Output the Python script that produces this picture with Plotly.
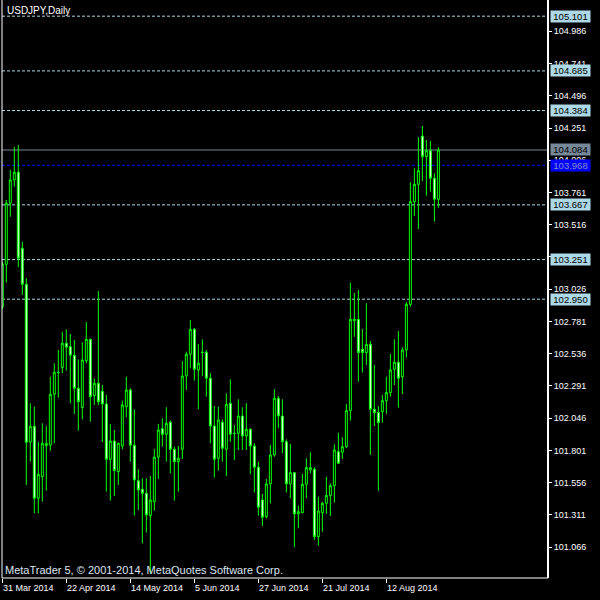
import plotly.graph_objects as go

# ---- data (USDJPY daily) ----
opens = [102.891, 103.215, 103.679, 103.856, 103.915, 103.337, 103.063, 101.863, 101.984, 101.437,
         101.601, 101.837, 101.842, 102.227, 102.395, 102.430, 102.615, 102.589, 102.524, 102.273,
         102.126, 102.483, 102.645, 102.217, 102.311, 102.250, 102.154, 101.733, 101.872, 101.639,
         101.834, 102.133, 102.260, 101.840, 101.571, 101.505, 101.475, 101.305, 101.411, 101.749,
         101.966, 101.923, 102.015, 101.809, 101.715, 101.809, 102.366, 102.531, 102.721, 102.412,
         102.547, 102.547, 102.349, 101.986, 101.741, 102.015, 101.809, 102.159, 101.931, 101.931,
         102.062, 101.910, 101.961, 101.834, 101.673, 101.424, 101.297, 101.546, 101.766, 102.197,
         102.062, 101.867, 101.546, 101.632, 101.318, 101.328, 101.543, 101.652, 101.657, 101.145,
         101.328, 101.399, 101.457, 101.533, 101.791, 101.787, 101.829, 102.103, 102.787, 102.797,
         102.569, 102.544, 102.607, 102.113, 102.088, 102.095, 102.179, 102.240, 102.417, 102.471,
         102.361, 102.564, 102.911, 103.691, 103.823, 104.190, 104.033, 104.079, 103.869, 103.709]
highs = [103.233, 103.704, 103.932, 104.109, 104.122, 103.387, 103.109, 102.159, 102.133, 101.867,
         102.007, 101.986, 102.361, 102.463, 102.564, 102.703, 102.721, 102.686, 102.640, 102.493,
         102.623, 102.777, 102.650, 102.349, 103.012, 102.298, 102.222, 102.002, 101.956, 101.860,
         102.179, 102.361, 102.273, 102.113, 101.657, 101.589, 101.589, 101.606, 101.812, 102.002,
         102.045, 102.129, 102.027, 101.829, 101.834, 102.480, 102.551, 102.792, 102.731, 102.610,
         102.645, 102.564, 102.387, 102.138, 102.133, 102.037, 102.235, 102.341, 101.994, 102.189,
         102.129, 102.159, 101.969, 101.855, 101.715, 101.470, 101.584, 101.842, 102.265, 102.214,
         102.189, 101.885, 101.850, 101.636, 101.381, 101.622, 101.741, 101.787, 101.673, 101.449,
         101.411, 101.599, 101.551, 101.847, 101.936, 101.901, 102.154, 103.076, 102.999, 103.020,
         102.724, 102.919, 102.632, 102.450, 102.138, 102.222, 102.361, 102.534, 102.645, 102.708,
         102.585, 102.927, 103.839, 103.945, 104.181, 104.266, 104.160, 104.152, 103.907, 104.105]
lows = [102.876, 103.076, 103.577, 103.805, 103.193, 102.982, 101.538, 101.715, 101.323, 101.323,
        101.411, 101.495, 101.799, 101.855, 102.201, 102.387, 102.407, 102.159, 102.078, 101.951,
        102.037, 102.463, 102.019, 102.146, 102.146, 101.865, 101.487, 101.419, 101.454, 101.538,
        101.809, 102.053, 101.715, 101.305, 101.348, 101.095, 101.176, 100.862, 101.343, 101.584,
        101.829, 101.715, 101.627, 101.419, 101.487, 101.736, 102.260, 102.425, 102.331, 102.113,
        102.366, 102.209, 101.855, 101.594, 101.647, 101.715, 101.606, 101.867, 101.728, 101.804,
        101.804, 101.804, 101.619, 101.480, 101.305, 101.226, 101.285, 101.399, 101.753, 101.969,
        101.779, 101.480, 101.437, 101.065, 101.209, 101.323, 101.437, 101.627, 101.120, 101.077,
        101.183, 101.318, 101.302, 101.404, 101.698, 101.736, 101.817, 102.027, 102.665, 102.323,
        102.392, 102.450, 101.766, 101.986, 101.495, 102.012, 102.078, 102.209, 102.298, 102.126,
        102.230, 102.506, 102.893, 103.582, 103.484, 103.848, 103.737, 103.767, 103.539, 103.646]
closes = [103.218, 103.679, 103.856, 103.915, 103.261, 103.063, 101.863, 101.984, 101.437, 101.619,
          101.855, 101.855, 102.227, 102.395, 102.392, 102.615, 102.585, 102.524, 102.273, 102.171,
          102.488, 102.645, 102.209, 102.311, 102.171, 102.154, 101.733, 101.872, 101.647, 101.855,
          102.146, 102.260, 101.840, 101.576, 101.500, 101.475, 101.310, 101.424, 101.749, 101.956,
          101.923, 102.007, 101.809, 101.715, 101.741, 102.366, 102.531, 102.721, 102.417, 102.463,
          102.545, 102.349, 101.986, 101.733, 102.032, 101.817, 102.151, 101.923, 101.929, 102.062,
          101.910, 101.961, 101.834, 101.673, 101.369, 101.293, 101.546, 101.766, 102.197, 102.062,
          101.867, 101.546, 101.632, 101.318, 101.335, 101.543, 101.670, 101.670, 101.145, 101.340,
          101.399, 101.458, 101.533, 101.804, 101.703, 101.829, 102.103, 102.797, 102.797, 102.544,
          102.544, 102.607, 102.113, 102.088, 102.012, 102.179, 102.240, 102.412, 102.471, 102.349,
          102.564, 102.911, 103.691, 103.823, 103.927, 104.033, 104.079, 103.869, 103.709, 104.084]
bar_index = list(range(len(opens)))

date_ticks = [0, 16, 32, 48, 64, 80, 96]
date_labels = ["31 Mar 2014", "22 Apr 2014", "14 May 2014", "5 Jun 2014",
               "27 Jun 2014", "21 Jul 2014", "12 Aug 2014"]

price_ticks = [101.066, 101.311, 101.556, 101.801, 102.046, 102.291, 102.536, 102.781,
               103.026, 103.271, 103.516, 103.761, 104.006, 104.251, 104.496, 104.741, 104.986]

level_values = [105.101, 104.685, 104.384, 103.667, 103.251, 102.950]
bid_level = 104.084
ask_level = 103.968

y_min, y_max = 100.831, 105.224

GREEN = "#00FF00"
LEVEL_COL = "#ADD8E6"
FONT = "Liberation Sans"

fig = go.Figure()

# horizontal level lines (drawn under candles)
shapes = []
for v in level_values:
    shapes.append(dict(type="line", xref="paper", yref="y", x0=0, x1=1, y0=v, y1=v,
                       line=dict(color=LEVEL_COL, width=1, dash="3px,2px"), layer="below"))
shapes.append(dict(type="line", xref="paper", yref="y", x0=0, x1=1, y0=bid_level, y1=bid_level,
                   line=dict(color="#778899", width=1), layer="below"))
shapes.append(dict(type="line", xref="paper", yref="y", x0=0, x1=1, y0=ask_level, y1=ask_level,
                   line=dict(color="#0000FF", width=1, dash="3px,2px"), layer="below"))
# frame
shapes.append(dict(type="line", xref="paper", yref="paper", x0=0, x1=0, y0=0, y1=1,
                   line=dict(color="white", width=1)))
shapes.append(dict(type="line", xref="paper", yref="paper", x0=0, x1=1, y0=0, y1=0,
                   line=dict(color="white", width=1)))
shapes.append(dict(type="line", xref="paper", yref="paper", x0=1, x1=1, y0=0, y1=1,
                   line=dict(color="white", width=2)))

fig.add_trace(go.Candlestick(
    x=bar_index, open=opens, high=highs, low=lows, close=closes,
    increasing=dict(line=dict(color=GREEN, width=1), fillcolor="black"),
    decreasing=dict(line=dict(color=GREEN, width=1), fillcolor="white"),
    whiskerwidth=0, showlegend=False, hoverinfo="skip",
))

annotations = []
# price level labels on the right
for v in level_values:
    annotations.append(dict(xref="paper", yref="y", x=1, y=v, xanchor="left", yanchor="middle",
                            xshift=2, text=f"{v:.3f}", showarrow=False, bgcolor=LEVEL_COL,
                            font=dict(family=FONT, size=9.5, color="black"),
                            width=39, height=11, borderpad=0))
annotations.append(dict(xref="paper", yref="y", x=1, y=bid_level, xanchor="left", yanchor="middle",
                        xshift=2, text=f"{bid_level:.3f}", showarrow=False, bgcolor="#778899",
                        font=dict(family=FONT, size=9.5, color="black"),
                        width=39, height=11, borderpad=0))
annotations.append(dict(xref="paper", yref="y", x=1, y=ask_level, xanchor="left", yanchor="middle",
                        xshift=2, text=f"{ask_level:.3f}", showarrow=False, bgcolor="#0000FF",
                        font=dict(family=FONT, size=9.5, color="#8090C0"),
                        width=39, height=11, borderpad=0))
# date labels (left aligned at their ticks)
for t, lab in zip(date_ticks, date_labels):
    annotations.append(dict(xref="x", yref="paper", x=t, y=0, xanchor="left", yanchor="top",
                            xshift=-1, yshift=-3, text=lab, showarrow=False,
                            font=dict(family=FONT, size=9, color="white")))
# title and copyright
annotations.append(dict(xref="paper", yref="paper", x=0, y=1, xanchor="left", yanchor="top",
                        xshift=3, yshift=-3, text="USDJPY,Daily", showarrow=False,
                        font=dict(family=FONT, size=10, color="white")))
annotations.append(dict(xref="paper", yref="paper", x=0, y=0, xanchor="left", yanchor="bottom",
                        xshift=1, yshift=0, text="MetaTrader 5, © 2001-2014, MetaQuotes Software Corp.",
                        showarrow=False, font=dict(family=FONT, size=11, color="#DCE6F2")))

fig.update_layout(
    width=600, height=600,
    margin=dict(l=2, r=52, t=0, b=22),
    paper_bgcolor="black", plot_bgcolor="black",
    shapes=shapes, annotations=annotations,
    showlegend=False,
    xaxis=dict(range=[-0.075, 136.4], showgrid=False, zeroline=False,
               tickmode="array", tickvals=date_ticks, ticks="outside", ticklen=4,
               tickcolor="white", showticklabels=False, rangeslider=dict(visible=False),
               fixedrange=True),
    yaxis=dict(range=[y_min, y_max], side="right", showgrid=False, zeroline=False,
               tickmode="array", tickvals=price_ticks, ticktext=[f"{p:.3f}" for p in price_ticks],
               ticks="outside", ticklen=3, tickcolor="white",
               tickfont=dict(family=FONT, size=9, color="white"), fixedrange=True),
)

fig.write_html("out.html", config={"displayModeBar": False},
               post_script="document.body.style.margin='0';document.body.style.background='black';")
